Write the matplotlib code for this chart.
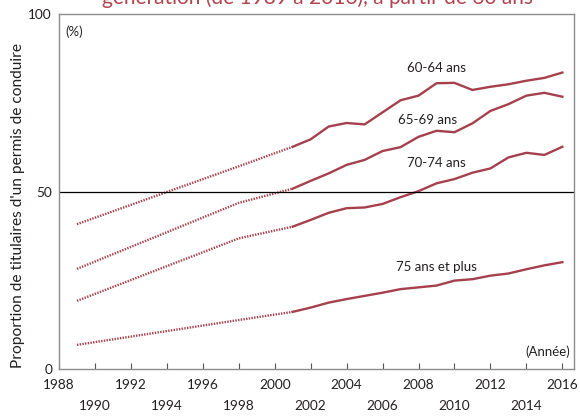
import matplotlib.pyplot as plt

plt.rcParams['font.family'] = ['Lato', 'DejaVu Sans']

# années et valeurs (%)
annees_pointillees = [1989, 1998, 2001]
annees = list(range(2001, 2017))

p60_64_pts = [40.8, 57.1, 62.6]
p65_69_pts = [28.2, 46.8, 50.8]
p70_74_pts = [19.2, 36.8, 40.1]
p75_pts = [6.8, 13.8, 16.1]

p60_64 = [62.6, 64.7, 68.3, 69.3, 68.9, 72.3, 75.7, 77.0, 80.5, 80.6,
          78.6, 79.5, 80.2, 81.2, 82.0, 83.5]
p65_69 = [50.8, 53.0, 55.1, 57.5, 58.9, 61.4, 62.5, 65.4, 67.1, 66.7,
          69.2, 72.7, 74.6, 77.0, 77.8, 76.7]
p70_74 = [40.1, 42.0, 44.0, 45.3, 45.5, 46.5, 48.4, 50.1, 52.3, 53.5,
          55.3, 56.5, 59.6, 60.9, 60.3, 62.6]
p75 = [16.1, 17.3, 18.7, 19.7, 20.6, 21.5, 22.5, 23.0, 23.5, 24.9,
       25.3, 26.3, 26.9, 28.1, 29.2, 30.1]

etiquettes = ['60-64 ans', '65-69 ans', '70-74 ans', '75 ans et plus']
pos_etiquettes = [(2009, 84.7), (2008.5, 70.1), (2009, 57.9), (2009, 28.6)]

couleur = '#a5404c'
texte = '#231f20'

fig = plt.figure(figsize=(5.8, 4.19), dpi=100)
ax = fig.add_axes([0.1017, 0.1193, 0.888, 0.8473])

for pts, vals in [(p60_64_pts, p60_64), (p65_69_pts, p65_69),
                  (p70_74_pts, p70_74), (p75_pts, p75)]:
    ax.plot(annees_pointillees, pts, color=couleur, lw=1.7,
            linestyle=(0, (0.6, 0.55)))
    ax.plot(annees, vals, color=couleur, lw=1.7)

ax.axhline(50, color='black', lw=0.9)

for lab, (x, y) in zip(etiquettes, pos_etiquettes):
    ax.text(x, y, lab, ha='center', va='center', fontsize=9.5, color=texte)

ax.text(1988.35, 95, '(%)', ha='left', va='center', fontsize=9.5, color=texte)
ax.text(2016.42, 5, '(Année)', ha='right', va='center', fontsize=9.5, color=texte)

ax.set_xlim(1988, 2016.65)
ax.set_ylim(0, 100)

xt = list(range(1988, 2017, 2))
ax.set_xticks(xt)
ax.set_xticklabels([str(a) if a % 4 == 0 else '\n' + str(a) for a in xt],
                   fontsize=9.8, color=texte)
for t in ax.get_xticklabels():
    t.set_linespacing(1.95)
ax.tick_params(axis='x', direction='in', length=4, color='#555555', pad=7)
ax.set_yticks([0, 50, 100])
ax.set_yticklabels(['0', '50', '100'], fontsize=9.8, color=texte)
ax.tick_params(axis='y', length=0, pad=5)

for s in ax.spines.values():
    s.set_color('#8c8c8c')
    s.set_linewidth(1)

ax.set_ylabel("Proportion de titulaires d'un permis de conduire",
              fontsize=11.2, color=texte)
ax.yaxis.set_label_coords(-0.066, 0.46)

fig.text(0.547, 0.99, 'génération (de 1989 à 2016), à partir de 60 ans',
         ha='center', va='baseline', fontsize=15, color='#b0454f')

fig.savefig('out.png', dpi=100)
